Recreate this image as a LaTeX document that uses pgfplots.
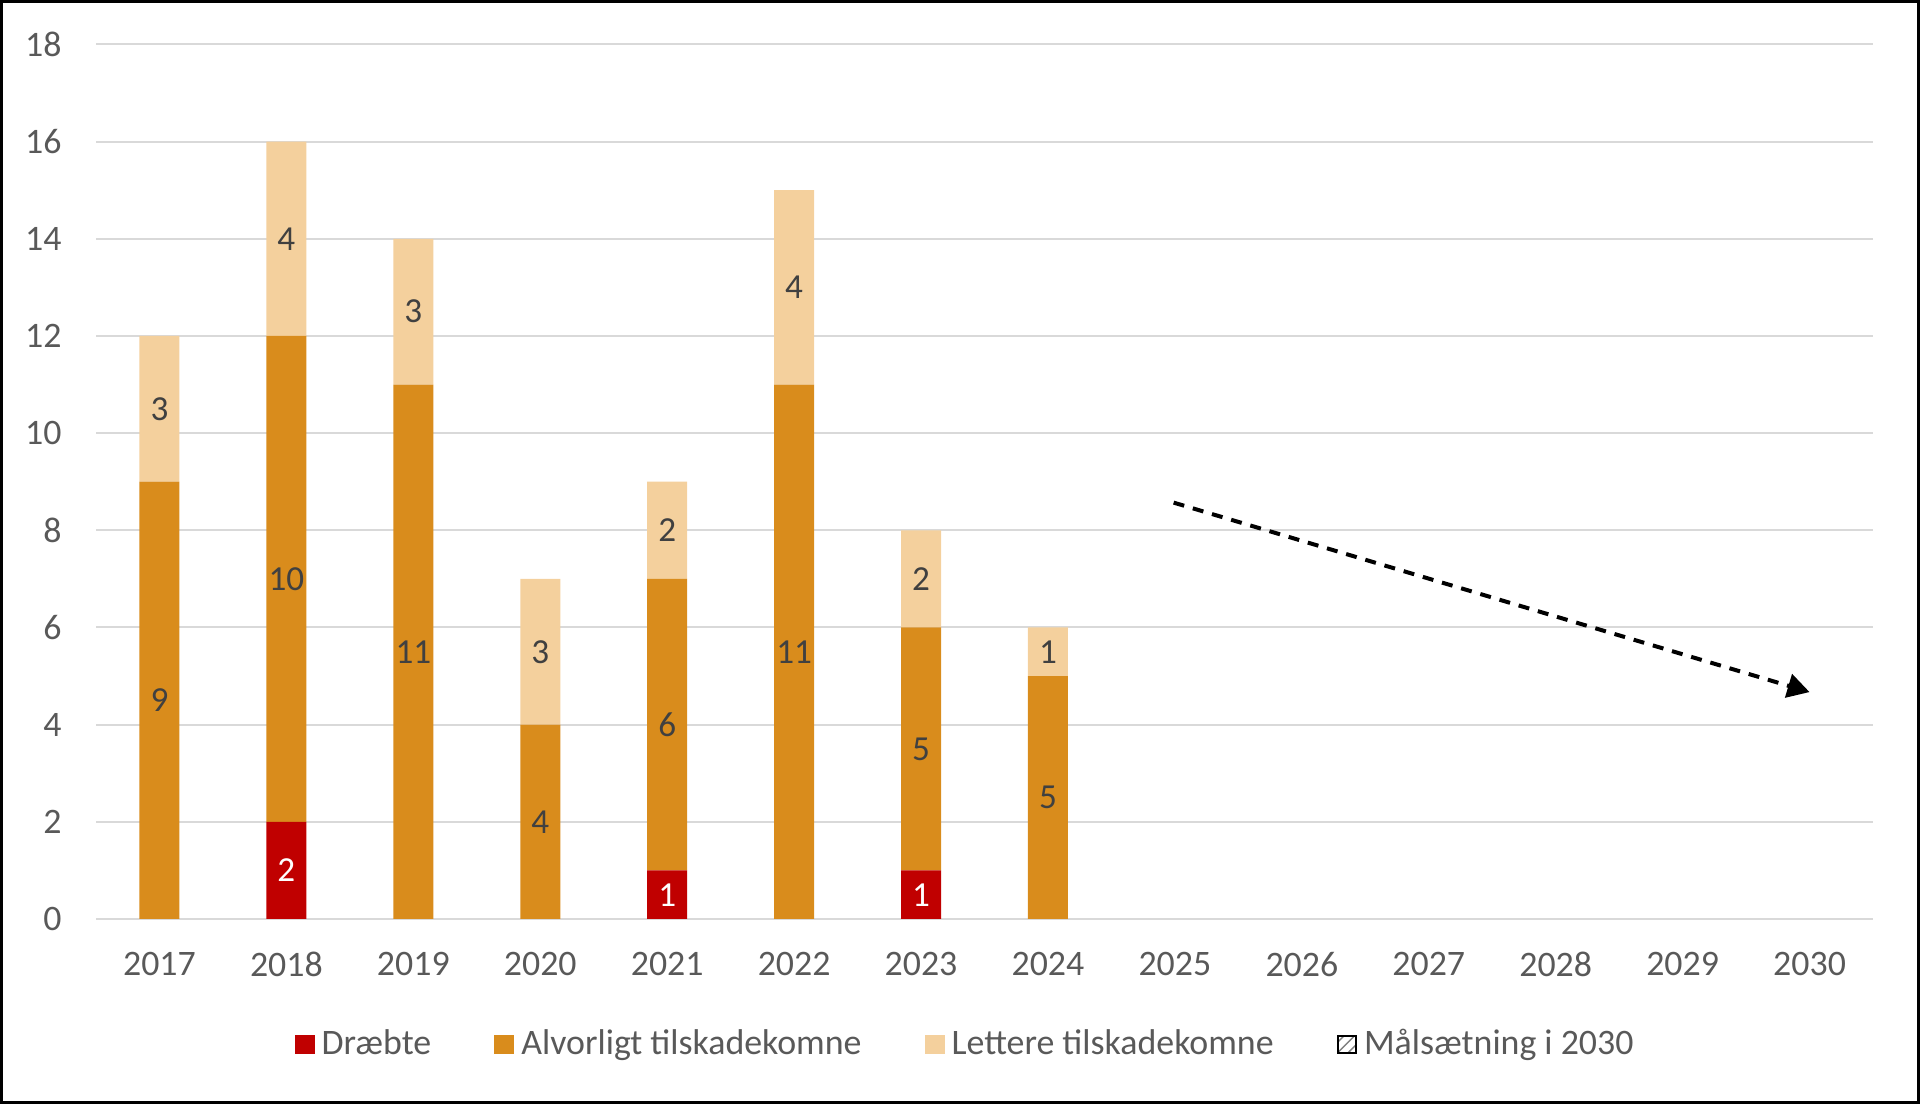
\documentclass[border=0pt]{standalone}
\usepackage{pgfplots}
\pgfplotsset{compat=1.18}
\usepackage{pgfplotstable}
\usepackage{fontspec}
\setmainfont{Carlito}
\usetikzlibrary{patterns,arrows.meta}
\definecolor{cD}{HTML}{C00000}
\definecolor{cA}{HTML}{D98C1C}
\definecolor{cL}{HTML}{F4D09D}
\definecolor{tickc}{HTML}{595959}
\definecolor{labc}{HTML}{404040}
\definecolor{gridc}{HTML}{D9D9D9}
\pgfplotstableread{
x d a l dl al ll
0 0 9 3 {} 9 3
1 2 10 4 2 10 4
2 0 11 3 {} 11 3
3 0 4 3 {} 4 3
4 1 6 2 1 6 2
5 0 11 4 {} 11 4
6 1 5 2 1 5 2
7 0 5 1 {} 5 1
}\data
\begin{document}
\begin{tikzpicture}
\useasboundingbox (0,0) rectangle (19.2cm,11.04cm);
\draw[black, line width=0.3mm] (0.15mm,0.15mm) rectangle (19.2cm-0.15mm,11.04cm-0.15mm);
\begin{axis}[
  at={(0.96cm,1.85cm)}, anchor=south west,
  scale only axis, width=17.77cm, height=8.745cm,
  ybar stacked, bar width=4mm,
  xmin=-0.5, xmax=13.5, ymin=0, ymax=18,
  xtick={0,...,13},
  xticklabels={2017,2018,2019,2020,2021,2022,2023,2024,2025,2026,2027,2028,2029,2030},
  ytick={0,2,...,18},
  ymajorgrids, major grid style={draw=gridc, line width=0.2mm},
  axis line style={draw=none}, tick style={draw=none},
  tick label style={font=\fontsize{10.2}{12}\selectfont, text=tickc},
  /pgf/number format/assume math mode=true,
  yticklabel style={xshift=-2.2mm},
  xticklabel style={yshift=-2.1mm},
  legend columns=4,
  legend style={at={(0.4905,-0.1435)}, anchor=center, draw=none, fill=none,
    font=\fontsize{10.2}{12}\selectfont, text=tickc,
    /tikz/every even column/.append style={column sep=5.6mm}},
  legend image code/.code={\fill[#1] (0mm,-0.95mm) rectangle (2.0mm,0.95mm);},
  point meta=explicit symbolic,
  nodes near coords,
  every node near coord/.append style={anchor=center, font=\fontsize{10}{12}\selectfont, text=labc},
]
\addplot[fill=cD, draw=none,
  every node near coord/.append style={text=white}] table[x=x, y=d, meta=dl] {\data};
\addlegendentry{Dræbte}
\addplot[fill=cA, draw=none] table[x=x, y=a, meta=al] {\data};
\addlegendentry{Alvorligt tilskadekomne}
\addplot[fill=cL, draw=none] table[x=x, y=l, meta=ll] {\data};
\addlegendentry{Lettere tilskadekomne}
\addlegendimage{legend image code/.code={\draw[black, line width=0.25mm, pattern=north east lines, pattern color=gray] (0mm,-0.85mm) rectangle (1.8mm,0.85mm);}}
\addlegendentry{Målsætning i 2030}
\draw[black, line width=0.4mm, dash pattern=on 1.1mm off 0.9mm, -{Triangle[length=2.2mm,width=2.4mm]}]
  (axis cs:7.99,8.57) -- (axis cs:13.0,4.67);
\end{axis}
\end{tikzpicture}
\end{document}
